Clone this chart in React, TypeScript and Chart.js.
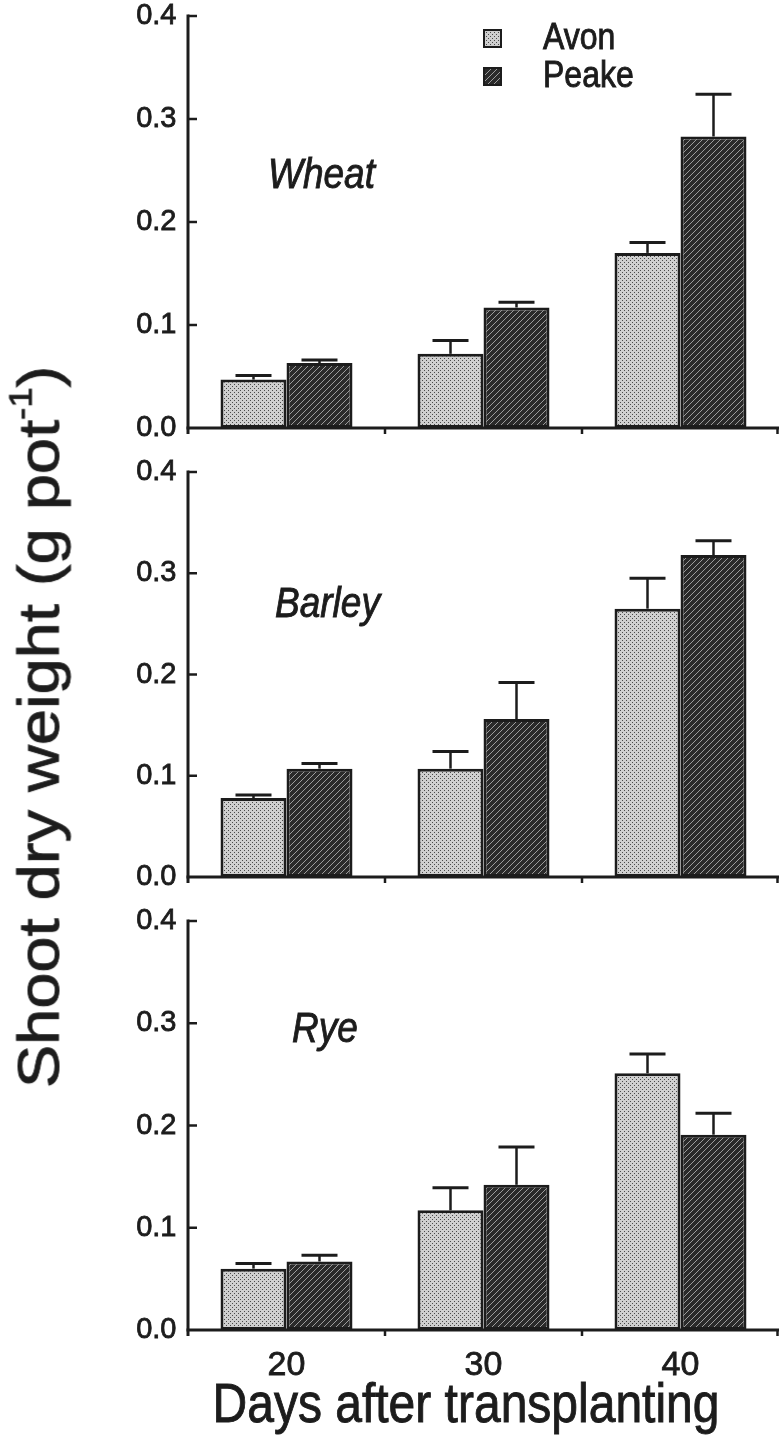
import React, { useEffect, useRef } from 'react';
import { Chart, registerables } from 'chart.js';

Chart.register(...registerables);

// ---------- data ----------
const categories = ['20', '30', '40'];
const seriesNames = ['Avon', 'Peake'];
const panelNames = ['Wheat', 'Barley', 'Rye'];
const yTickValues = [0, 0.1, 0.2, 0.3, 0.4];

const wheatAvon = [0.047, 0.072, 0.17];
const wheatAvonErr = [0.004, 0.013, 0.01];
const wheatPeake = [0.063, 0.117, 0.283];
const wheatPeakeErr = [0.003, 0.005, 0.041];

const barleyAvon = [0.078, 0.107, 0.265];
const barleyAvonErr = [0.003, 0.017, 0.03];
const barleyPeake = [0.107, 0.156, 0.318];
const barleyPeakeErr = [0.005, 0.036, 0.014];

const ryeAvon = [0.06, 0.117, 0.251];
const ryeAvonErr = [0.005, 0.022, 0.019];
const ryePeake = [0.067, 0.142, 0.191];
const ryePeakeErr = [0.006, 0.037, 0.021];

const xTitle = 'Days after transplanting';
const yTitle = 'Shoot dry weight (g pot';
const yTitleSup = '-1';

// ---------- styling ----------
const FONT = '"Liberation Sans", Arial, Helvetica, sans-serif';
const INK = '#1c1c1c';
const W = 779;
const STRETCH = 1.14; // vertical stretch of the scanned lettering

type PanelDef = {
  name: string;
  avon: number[];
  avonErr: number[];
  peake: number[];
  peakeErr: number[];
  top: number;
  height: number;
  showX: boolean;
  legend: boolean;
  labelX: number;
  labelY: number;
};

// canvas top = plot top - 26 (label half height + tick padding reserved by Chart.js)
const panels: PanelDef[] = [
  { name: panelNames[0], avon: wheatAvon, avonErr: wheatAvonErr, peake: wheatPeake, peakeErr: wheatPeakeErr,
    top: -10, height: 464, showX: false, legend: true, labelX: 268, labelY: 186 },
  { name: panelNames[1], avon: barleyAvon, avonErr: barleyAvonErr, peake: barleyPeake, peakeErr: barleyPeakeErr,
    top: 446, height: 457, showX: false, legend: false, labelX: 275, labelY: 159 },
  { name: panelNames[2], avon: ryeAvon, avonErr: ryeAvonErr, peake: ryePeake, peakeErr: ryePeakeErr,
    top: 895, height: 558, showX: true, legend: false, labelX: 292, labelY: 135 },
];

function makeAvonPattern(ctx: CanvasRenderingContext2D) {
  const c = document.createElement('canvas');
  c.width = 4;
  c.height = 4;
  const g = c.getContext('2d')!;
  g.fillStyle = '#cfcfcf';
  g.fillRect(0, 0, 4, 4);
  g.fillStyle = '#4a4a4a';
  g.fillRect(0, 0, 1, 1);
  g.fillRect(2, 2, 1, 1);
  return ctx.createPattern(c, 'repeat')!;
}

function makePeakePattern(ctx: CanvasRenderingContext2D) {
  const c = document.createElement('canvas');
  c.width = 6;
  c.height = 6;
  const g = c.getContext('2d')!;
  g.fillStyle = '#2a2a2a';
  g.fillRect(0, 0, 6, 6);
  g.fillStyle = '#9c9c9c';
  for (let i = 0; i < 6; i++) g.fillRect(i, 5 - i, 1, 1);
  return ctx.createPattern(c, 'repeat')!;
}

function stretchedText(c: CanvasRenderingContext2D, text: string, x: number, y: number) {
  c.save();
  c.translate(x, y);
  c.scale(1, STRETCH);
  c.lineWidth = 0.8;
  c.strokeStyle = INK;
  c.fillText(text, 0, 0);
  c.strokeText(text, 0, 0);
  c.restore();
}

function PanelChart({ p }: { p: PanelDef }) {
  const ref = useRef<HTMLCanvasElement | null>(null);
  useEffect(() => {
    const canvas = ref.current!;
    const ctx = canvas.getContext('2d')!;
    const avonPat = makeAvonPattern(ctx);
    const peakePat = makePeakePattern(ctx);

    const decor = {
      id: 'decor',
      afterDatasetsDraw(chart: any) {
        const { ctx: c, chartArea, scales } = chart;
        const x = scales.x;
        const y = scales.y;
        c.save();
        c.strokeStyle = INK;
        c.lineCap = 'butt';
        // error bars (upper only)
        chart.data.datasets.forEach((ds: any, di: number) => {
          const meta = chart.getDatasetMeta(di);
          meta.data.forEach((bar: any, i: number) => {
            const v = ds.data[i];
            const e = ds.errors[i];
            const yTop = y.getPixelForValue(v + e);
            c.lineWidth = 2.5;
            c.beginPath();
            c.moveTo(bar.x, bar.y);
            c.lineTo(bar.x, yTop);
            c.stroke();
            c.lineWidth = 3;
            c.beginPath();
            c.moveTo(bar.x - 18, yTop);
            c.lineTo(bar.x + 18, yTop);
            c.stroke();
          });
        });
        // y axis line
        c.lineWidth = 3;
        const yMaxPix = y.getPixelForValue(yTickValues[yTickValues.length - 1]);
        c.beginPath();
        c.moveTo(chartArea.left, yMaxPix - 1.5);
        c.lineTo(chartArea.left, chartArea.bottom + 6);
        c.stroke();
        // inward y ticks
        c.lineWidth = 2.5;
        yTickValues.forEach((v) => {
          if (v === 0) return;
          const py = y.getPixelForValue(v);
          c.beginPath();
          c.moveTo(chartArea.left, py);
          c.lineTo(chartArea.left + 9, py);
          c.stroke();
        });
        // x axis line
        c.lineWidth = 3;
        c.beginPath();
        c.moveTo(chartArea.left - 1.5, chartArea.bottom);
        c.lineTo(chartArea.right, chartArea.bottom);
        c.stroke();
        // x ticks at category boundaries
        c.lineWidth = 2.5;
        for (let i = 0; i < categories.length; i++) {
          const pc = x.getPixelForValue(i);
          const pn = i < categories.length - 1 ? x.getPixelForValue(i + 1) : pc + (pc - x.getPixelForValue(i - 1));
          const bx = Math.min((pc + pn) / 2, chartArea.right - 1.5);
          c.beginPath();
          c.moveTo(bx, chartArea.bottom);
          c.lineTo(bx, chartArea.bottom + 6);
          c.stroke();
        }
        // panel label
        c.fillStyle = INK;
        c.font = `italic 37px ${FONT}`;
        c.textAlign = 'left';
        c.textBaseline = 'middle';
        stretchedText(c, p.name, p.labelX, p.labelY);
        // legend
        if (p.legend) {
          const pats = [avonPat, peakePat];
          const ys = [49, 87];
          c.font = `32px ${FONT}`;
          seriesNames.forEach((s, k) => {
            c.fillStyle = pats[k];
            c.fillRect(484, ys[k] - 9, 17, 17);
            c.lineWidth = 2;
            c.strokeStyle = INK;
            c.strokeRect(484, ys[k] - 9, 17, 17);
            c.fillStyle = INK;
            stretchedText(c, s, 543, ys[k]);
          });
        }
        // x axis title
        if (p.showX) {
          c.font = `48px ${FONT}`;
          c.textAlign = 'center';
          c.textBaseline = 'alphabetic';
          c.fillStyle = INK;
          stretchedText(c, xTitle, 466, chartArea.bottom + 92);
        }
        c.restore();
      },
    };

    const chart = new Chart(canvas, {
      type: 'bar',
      data: {
        labels: categories,
        datasets: [
          {
            label: seriesNames[0],
            data: p.avon,
            errors: p.avonErr,
            backgroundColor: avonPat,
            borderColor: INK,
            borderWidth: 3,
            borderSkipped: false,
          } as any,
          {
            label: seriesNames[1],
            data: p.peake,
            errors: p.peakeErr,
            backgroundColor: peakePat,
            borderColor: INK,
            borderWidth: 3,
            borderSkipped: false,
          } as any,
        ],
      },
      options: {
        animation: false,
        responsive: false,
        maintainAspectRatio: false,
        devicePixelRatio: 1,
        layout: { padding: 0 },
        datasets: { bar: { categoryPercentage: 0.67, barPercentage: 1 } },
        plugins: {
          legend: { display: false },
          tooltip: { enabled: false },
          title: { display: false },
        },
        scales: {
          x: {
            display: p.showX,
            offset: true,
            grid: { display: false, drawTicks: false },
            border: { display: false },
            ticks: {
              font: { family: FONT, size: 34, lineHeight: 1 },
              color: INK,
              padding: 19,
              maxRotation: 0,
              textStrokeColor: INK,
              textStrokeWidth: 0.8,
            },
            afterFit: (s: any) => {
              if (p.showX) s.height = 123;
            },
          },
          y: {
            min: 0,
            max: 0.4,
            afterBuildTicks: (s: any) => {
              s.ticks = yTickValues.map((v) => ({ value: v }));
            },
            grid: { display: false, drawTicks: false },
            border: { display: false },
            ticks: {
              font: { family: FONT, size: 29, lineHeight: 1 },
              color: INK,
              padding: 11.5,
              textStrokeColor: INK,
              textStrokeWidth: 0.8,
              callback: (v: any) => Number(v).toFixed(1),
            },
            afterFit: (s: any) => {
              s.width = 188;
            },
          },
        },
      },
      plugins: [decor],
    } as any);
    return () => chart.destroy();
  }, [p]);

  return (
    <canvas
      ref={ref}
      width={W}
      height={p.height}
      style={{ position: 'absolute', left: 0, top: p.top, width: W, height: p.height }}
    />
  );
}

export default function App() {
  return (
    <div
      style={{
        position: 'absolute',
        left: 0,
        top: 0,
        width: W,
        height: 1453,
        background: '#fff',
        overflow: 'hidden',
      }}
    >
      {panels.map((p) => (
        <PanelChart key={p.name} p={p} />
      ))}
      <div
        style={{
          position: 'absolute',
          left: 39,
          top: 727,
          transform: `translate(-50%, -50%) rotate(-90deg) scaleX(${STRETCH})`,
          whiteSpace: 'nowrap',
          fontFamily: FONT,
          fontSize: 57,
          color: INK,
          lineHeight: 1,
          WebkitTextStroke: '0.8px #1c1c1c',
        }}
      >
        {yTitle}
        <sup style={{ fontSize: 32, verticalAlign: 'top', position: 'relative', top: -6 }}>{yTitleSup}</sup>)
      </div>
    </div>
  );
}
